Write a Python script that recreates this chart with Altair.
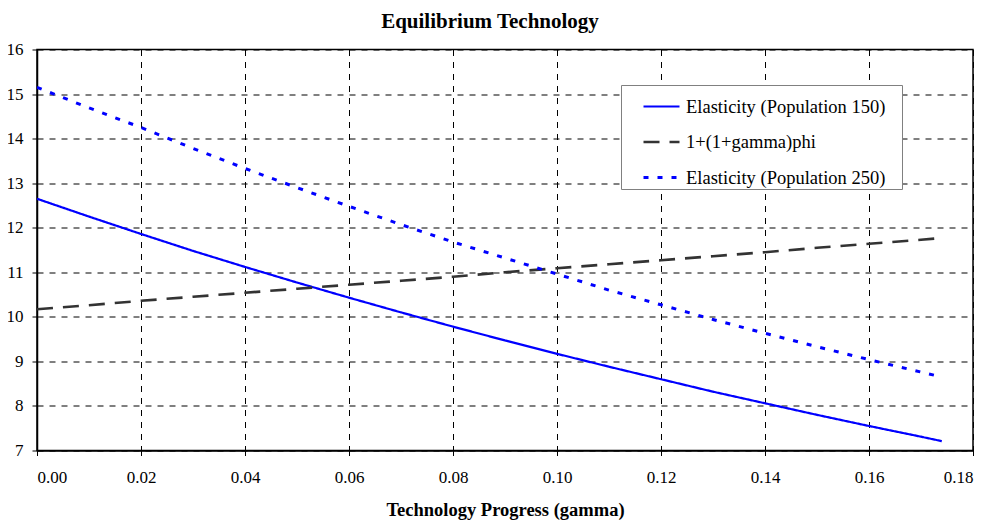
import altair as alt
import pandas as pd

gamma = [0.00, 0.01, 0.02, 0.03, 0.04, 0.05, 0.06, 0.07, 0.08, 0.09,
         0.10, 0.11, 0.12, 0.13, 0.14, 0.15, 0.16, 0.17, 0.174]
elast_150 = [12.65, 12.25, 11.86, 11.48, 11.12, 10.77, 10.43, 10.10, 9.78, 9.47,
             9.17, 8.88, 8.60, 8.32, 8.06, 7.80, 7.55, 7.31, 7.21]
one_plus_phi = [10.17, 10.26, 10.36, 10.45, 10.54, 10.63, 10.72, 10.81, 10.90, 11.00,
                11.09, 11.18, 11.27, 11.36, 11.45, 11.55, 11.64, 11.73, 11.77]
elast_250 = [15.15, 14.69, 14.25, 13.78, 13.33, 12.90, 12.48, 12.07, 11.68, 11.32,
             10.96, 10.60, 10.27, 9.94, 9.63, 9.33, 9.04, 8.76, 8.65]

series_names = ["Elasticity (Population 150)", "1+(1+gamma)phi", "Elasticity (Population 250)"]
series_colors = ["#0000ff", "#333333", "#0000ff"]
series_dash = [[1, 0], [16, 10], [5, 9]]
series_width = [2.2, 3, 3]
x_ticks = [0.00, 0.02, 0.04, 0.06, 0.08, 0.10, 0.12, 0.14, 0.16, 0.18]
y_ticks = [7, 8, 9, 10, 11, 12, 13, 14, 15, 16]

rows = []
for name, vals in zip(series_names, [elast_150, one_plus_phi, elast_250]):
    for g, v in zip(gamma, vals):
        rows.append({"gamma": g, "value": v, "series": name})
df = pd.DataFrame(rows)

FONT = "Liberation Serif"

chart = alt.Chart(df).mark_line(clip=True).encode(
    x=alt.X("gamma:Q",
            scale=alt.Scale(domain=[0, 0.18], nice=False, zero=False),
            axis=alt.Axis(values=x_ticks, format=".2f",
                          title="Technology Progress (gamma)")),
    y=alt.Y("value:Q",
            scale=alt.Scale(domain=[7, 16], nice=False, zero=False),
            axis=alt.Axis(values=y_ticks, format="d", title=None)),
    color=alt.Color("series:N",
                    scale=alt.Scale(domain=series_names, range=series_colors),
                    legend=alt.Legend(title=None, orient="none",
                                      legendX=584, legendY=35.5,
                                      labelExpr="datum.label + '\u2800'")),
    strokeDash=alt.StrokeDash("series:N",
                              scale=alt.Scale(domain=series_names, range=series_dash)),
    strokeWidth=alt.StrokeWidth("series:N",
                                scale=alt.Scale(domain=series_names, range=series_width)),
    detail="series:N",
).properties(
    width=936,
    height=401,
    autosize="none",
    padding={"left": 29, "top": 41.5, "right": 5, "bottom": 70},
    title=alt.TitleParams("Equilibrium Technology", font=FONT, fontSize=21,
                          fontWeight="bold", anchor="middle", dx=-15,
                          baseline="alphabetic", offset=0, dy=8.5, color="black"),
).configure_view(
    stroke="black", strokeWidth=1.5, fill="white"
).configure_axis(
    grid=True, gridColor="black", gridDash=[6, 6], gridWidth=1, gridOpacity=1,
    domainColor="black", domainWidth=1.5, tickColor="black", tickSize=5,
    labelFont=FONT, labelFontSize=17, labelColor="black",
    titleFont=FONT, titleFontSize=18.5, titleFontWeight="bold", titleColor="black",
).configure_axisX(
    labelPadding=14, titlePadding=15
).configure_axisY(
    labelPadding=9
).configure_legend(
    strokeColor="#808080", fillColor="white", padding=2,
    labelFont=FONT, labelFontSize=18.5, labelColor="black",
    symbolType="stroke", symbolSize=1296, symbolOffset=19, labelOffset=5,
    rowPadding=6.5, labelLimit=500,
)

chart.save("out.html", embed_options={"renderer": "svg", "actions": False})
